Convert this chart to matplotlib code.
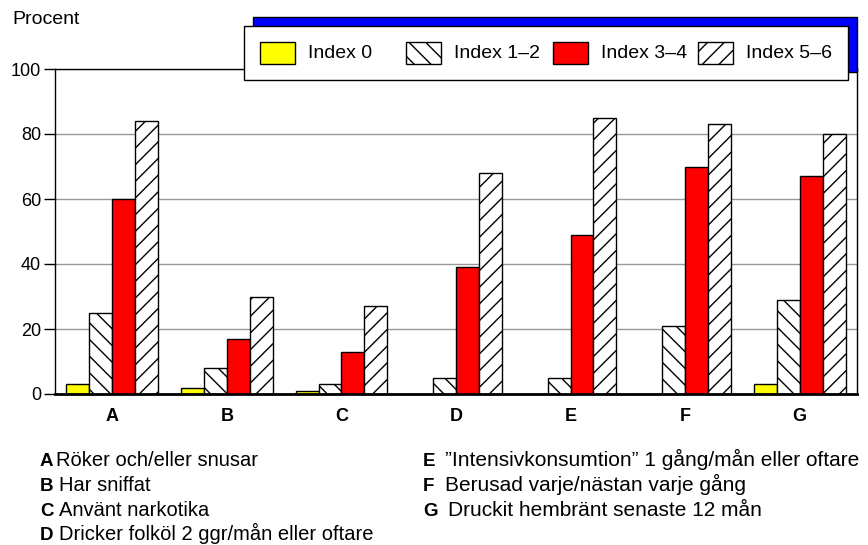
import numpy as np
import matplotlib.pyplot as plt
from matplotlib.patches import Rectangle

plt.rcParams['font.family'] = ['Liberation Sans', 'DejaVu Sans']
plt.rcParams['hatch.linewidth'] = 1.0

# Data
categories = ['A', 'B', 'C', 'D', 'E', 'F', 'G']
series_names = ['Index 0', 'Index 1–2', 'Index 3–4', 'Index 5–6']
index0 = [3, 2, 1, 0, 0, 0, 3]
index12 = [25, 8, 3, 5, 5, 21, 29]
index34 = [60, 17, 13, 39, 49, 70, 67]
index56 = [84, 30, 27, 68, 85, 83, 80]
yticks = [0, 20, 40, 60, 80, 100]

notes_left = [('A', 'Röker och/eller snusar'),
              ('B', 'Har sniffat'),
              ('C', 'Använt narkotika'),
              ('D', 'Dricker folköl 2 ggr/mån eller oftare')]
notes_right = [('E', '”Intensivkonsumtion” 1 gång/mån eller oftare'),
               ('F', 'Berusad varje/nästan varje gång'),
               ('G', 'Druckit hembränt senaste 12 mån')]

styles = [dict(facecolor='#ffff00', hatch=None),
          dict(facecolor='white', hatch='\\\\'),
          dict(facecolor='#ff0000', hatch=None),
          dict(facecolor='white', hatch='//')]

W, H = 868, 545
fig = plt.figure(figsize=(W / 100, H / 100), dpi=100)
ax = fig.add_axes([55 / W, 1 - 394 / H, (857 - 55) / W, (394 - 69) / H])

x = np.arange(len(categories))
bw = 0.2
all_series = [index0, index12, index34, index56]
for i, vals in enumerate(all_series):
    ax.bar(x + (i - 1.5) * bw, vals, bw, edgecolor='black', linewidth=1,
           zorder=3, **styles[i])

ax.set_xlim(-0.5, len(categories) - 0.5)
ax.set_ylim(0, 100)
ax.set_yticks(yticks)
ax.tick_params(axis='y', labelsize=13, length=8, width=1, direction='out', pad=2)
ax.set_xticks(x)
ax.set_xticklabels(categories, fontsize=13, fontweight='bold')
ax.tick_params(axis='x', length=0, pad=10)
ax.grid(axis='y', color='#999999', linewidth=1, zorder=0)
for s in ax.spines.values():
    s.set_color('black')
    s.set_linewidth(1)
ax.spines['bottom'].set_linewidth(2)
ax.spines['bottom'].set_zorder(5)

fig.text(12 / W, 1 - 20 / H, 'Procent', fontsize=14, va='center', ha='left')

# legend box with blue shadow
fig.patches.append(Rectangle((253 / W, 1 - 72 / H), (857 - 253) / W, 55 / H,
                             transform=fig.transFigure, facecolor='#0000ff',
                             edgecolor='black', linewidth=1, zorder=10))
fig.patches.append(Rectangle((244 / W, 1 - 80 / H), (848 - 244) / W, 54 / H,
                             transform=fig.transFigure, facecolor='white',
                             edgecolor='black', linewidth=1, zorder=11))
patch_x = [260, 406, 553, 698]
for i, name in enumerate(series_names):
    fig.patches.append(Rectangle((patch_x[i] / W, 1 - 64 / H), 35 / W, 22 / H,
                                 transform=fig.transFigure, edgecolor='black',
                                 linewidth=1, zorder=12, **styles[i]))
    fig.text((patch_x[i] + 48) / W, 1 - 53 / H, name, fontsize=14,
             va='center', ha='left', zorder=13)

# footnotes (baselines)
rows = [466, 491, 516, 540]
for (letter, txt), yy in zip(notes_left, rows):
    fig.text(40 / W, 1 - yy / H, letter, fontsize=13.5, fontweight='bold', va='baseline')
    fig.text((56 if letter == 'A' else 59) / W, 1 - yy / H, txt, fontsize=14.5, va='baseline')
for (letter, txt), yy in zip(notes_right, rows):
    fig.text(423 / W, 1 - yy / H, letter, fontsize=13.5, fontweight='bold', va='baseline')
    fig.text((448 if letter == 'G' else 445) / W, 1 - yy / H, txt, fontsize=15, va='baseline')

fig.savefig('out.png', dpi=100)
